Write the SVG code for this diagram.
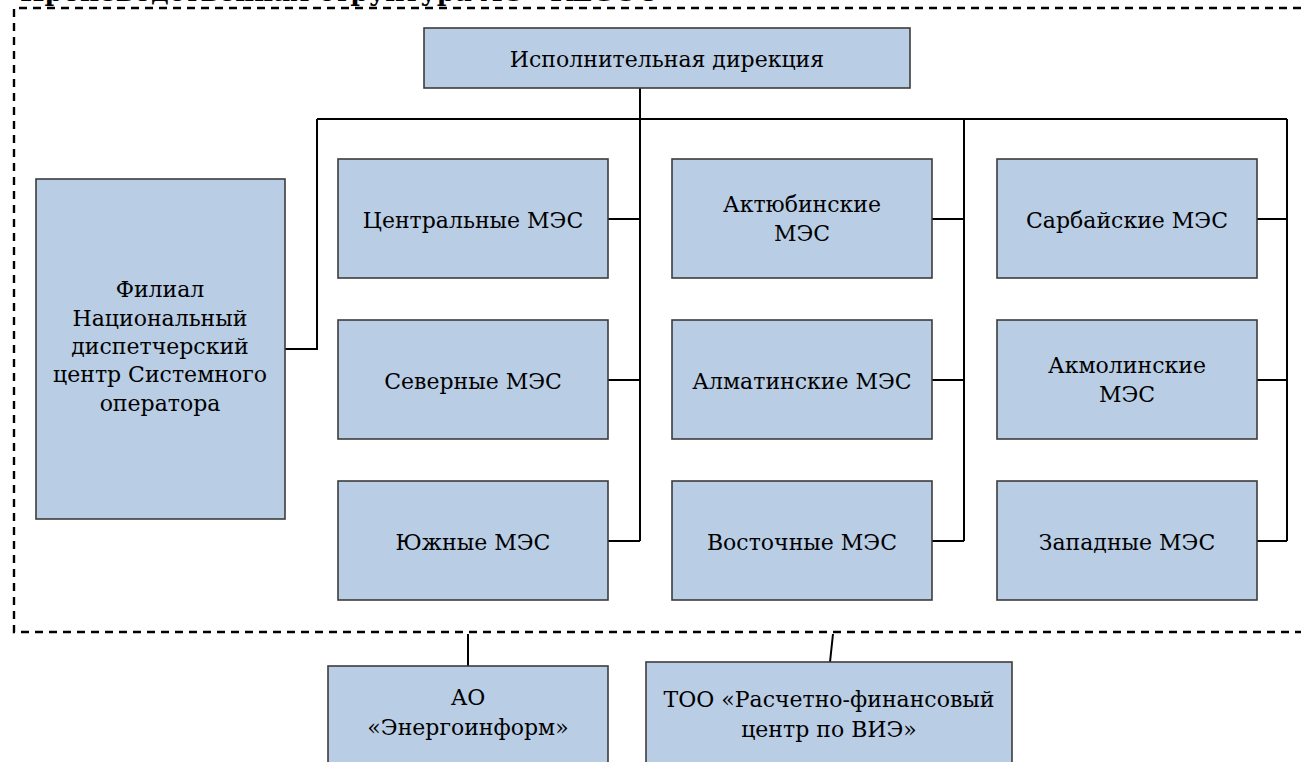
<svg xmlns="http://www.w3.org/2000/svg" width="1301" height="762" viewBox="0 0 1301 762">
<style>
.box{fill:#B9CDE5;stroke:#3C3C3C;stroke-width:1.6}
.t{font-family:'DejaVu Serif','Liberation Serif',serif;font-size:22px;fill:#000;text-anchor:middle}
.ln{fill:none;stroke:#000;stroke-width:2}
</style>
<rect width="1301" height="762" fill="#fff"/>
<text x="20" y="1" font-family="'DejaVu Serif','Liberation Serif',serif" font-size="26" font-weight="bold" fill="#000">Производственная структура АО «KEGOC»</text>
<path d="M1301 8 H14 V632 H1301" fill="none" stroke="#000" stroke-width="2.4" stroke-dasharray="8 6"/>
<g id="connectors">
<path class="ln" d="M640 88 V541 M317 119 H1287 M317 119 V349 H285 M964 119 V541 M1287 119 V541"/>
<path class="ln" d="M608 219 H640 M608 380 H640 M608 541 H640"/>
<path class="ln" d="M932 219 H964 M932 380 H964 M932 541 H964"/>
<path class="ln" d="M1257 219 H1287 M1257 380 H1287 M1257 541 H1287"/>
<path class="ln" d="M468 634 V666 M833 634 L830 662"/>
</g>
<g id="exec"><rect class="box" x="424" y="28" width="486" height="60"/><text class="t" x="667" y="67">Исполнительная дирекция</text></g>
<g id="filial"><rect class="box" x="36" y="179" width="249" height="340"/>
<text class="t" x="160" y="297">Филиал</text><text class="t" x="160" y="326">Национальный</text><text class="t" x="160" y="354">диспетчерский</text><text class="t" x="160" y="382">центр Системного</text><text class="t" x="160" y="411">оператора</text></g>
<g id="central"><rect class="box" x="338" y="159" width="270" height="119"/><text class="t" x="473" y="228">Центральные МЭС</text></g>
<g id="north"><rect class="box" x="338" y="320" width="270" height="119"/><text class="t" x="473" y="389">Северные МЭС</text></g>
<g id="south"><rect class="box" x="338" y="481" width="270" height="119"/><text class="t" x="473" y="550">Южные МЭС</text></g>
<g id="aktobe"><rect class="box" x="672" y="159" width="260" height="119"/><text class="t" x="802" y="212">Актюбинские</text><text class="t" x="802" y="241">МЭС</text></g>
<g id="almaty"><rect class="box" x="672" y="320" width="260" height="119"/><text class="t" x="802" y="389">Алматинские МЭС</text></g>
<g id="east"><rect class="box" x="672" y="481" width="260" height="119"/><text class="t" x="802" y="550">Восточные МЭС</text></g>
<g id="sarbai"><rect class="box" x="997" y="159" width="260" height="119"/><text class="t" x="1127" y="228">Сарбайские МЭС</text></g>
<g id="akmola"><rect class="box" x="997" y="320" width="260" height="119"/><text class="t" x="1127" y="373">Акмолинские</text><text class="t" x="1127" y="402">МЭС</text></g>
<g id="west"><rect class="box" x="997" y="481" width="260" height="119"/><text class="t" x="1127" y="550">Западные МЭС</text></g>
<g id="energoinform"><rect class="box" x="328" y="666" width="280" height="110"/><text class="t" x="468" y="705">АО</text><text class="t" x="468" y="735">«Энергоинформ»</text></g>
<g id="rfc"><rect class="box" x="646" y="662" width="366" height="110"/><text class="t" x="829" y="707">ТОО «Расчетно-финансовый</text><text class="t" x="829" y="737">центр по ВИЭ»</text></g>
</svg>
